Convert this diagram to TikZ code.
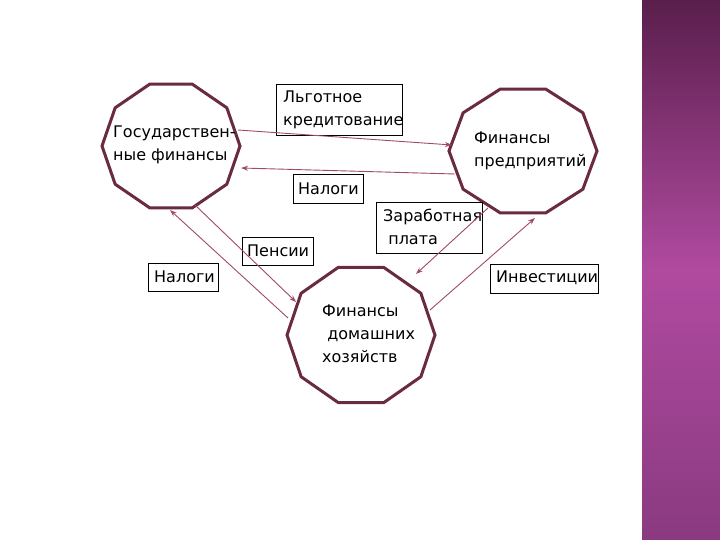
\documentclass[tikz,border=0pt]{standalone}
\usepackage{fontspec}
\setmainfont{DejaVu Sans}
\usetikzlibrary{arrows.meta,shapes.geometric}
\definecolor{oct}{HTML}{6A2A40}
\definecolor{arr}{HTML}{A04A68}
\definecolor{barTop}{HTML}{5A1F4C}
\definecolor{barMid}{HTML}{B04AA0}
\definecolor{barBot}{HTML}{8A3A80}
\tikzset{
  dec/.style={draw=oct,line width=3pt,fill=white},
  lbl/.style={draw=black,line width=0.5pt,inner sep=0pt,anchor=north west},
  txt/.style={font=\fontsize{16}{23}\selectfont,align=left,inner sep=0pt},
  flow/.style={draw=arr,line width=0.9pt,-{Stealth[length=7pt,width=5pt]}}
}
\begin{document}
\begin{tikzpicture}[x=1pt,y=-1pt]
\useasboundingbox (0,0) rectangle (720,540);
\fill[white] (0,0) rectangle (720,540);
\shade[top color=barTop,bottom color=barMid] (642,0) rectangle (720,270);
\shade[top color=barMid,bottom color=barBot] (642,270) rectangle (720,540);
% decagons
\foreach \n/\cx/\cy/\rx/\ry in {g/171/146/69/65, e/523/151/74/65, h/361/335/74/71}{
  \draw[dec] ({\cx+\rx},\cy) \foreach \a in {36,72,...,324}{ -- ({\cx+\rx*cos(\a)},{\cy-\ry*sin(\a)}) } -- cycle;
  \coordinate (\n) at (\cx,\cy);
}
% boxes
\node[lbl,minimum width=126pt,minimum height=51pt] (b1) at (276,84) {};
\node[lbl,minimum width=70pt,minimum height=29pt] (b2) at (293,174) {};
\node[lbl,minimum width=71pt,minimum height=28pt] (b3) at (242,237) {};
\node[lbl,minimum width=70pt,minimum height=28pt] (b4) at (148,263) {};
\node[lbl,minimum width=106pt,minimum height=51pt] (b5) at (376,202) {};
\node[lbl,minimum width=108pt,minimum height=29pt] (b6) at (490,264) {};
% texts
\node[txt,anchor=west] (t1) at (283,110) {Льготное\\кредитование};
\node[txt,anchor=west] (t2) at (298,189) {Налоги};
\node[txt,anchor=west] (t3) at (247,251) {Пенсии};
\node[txt,anchor=west] (t4) at (154,277) {Налоги};
\node[txt,anchor=west] (t5) at (383,227) {Заработная\\\ плата};
\node[txt,anchor=west] (t6) at (496,278) {Инвестиции};
\node[txt,anchor=west] (tg) at (113,145) {Государствен-\\ные финансы};
\node[txt,anchor=west] (te) at (474,151) {Финансы\\предприятий};
\node[txt,anchor=west] (th) at (322,334) {Финансы\\\ домашних\\хозяйств};
% connectors
\coordinate (g1) at (238,130); \coordinate (e1) at (452,145);
\coordinate (e2) at (455,174); \coordinate (g2) at (241,168);
\coordinate (g3) at (195,205); \coordinate (h3) at (296,302);
\coordinate (h4) at (288,318); \coordinate (g4) at (170,210);
\coordinate (e5) at (488,208); \coordinate (h5) at (416,274);
\coordinate (h6) at (430,310); \coordinate (e6) at (535,218);
\draw[flow] (g1) -- (e1);
\draw[flow] (e2) -- (g2);
\draw[flow] (g3) -- (h3);
\draw[flow] (h4) -- (g4);
\draw[flow] (e5) -- (h5);
\draw[flow] (h6) -- (e6);
\end{tikzpicture}
\end{document}
